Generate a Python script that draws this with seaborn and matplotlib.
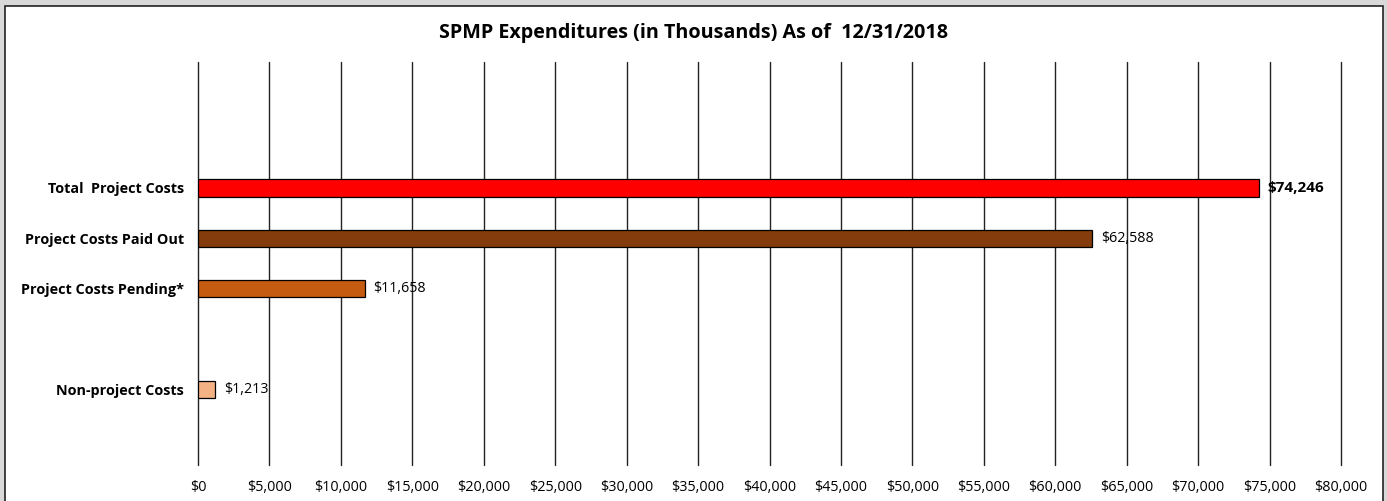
import matplotlib
matplotlib.use("Agg")
import matplotlib.pyplot as plt
from matplotlib.patches import Rectangle
import pandas as pd
import seaborn as sns

# chart data
categories = ["Total  Project Costs", "Project Costs Paid Out", "Project Costs Pending*", "Non-project Costs"]
values = [74246, 62588, 11658, 1213]
bar_colors = ["#FF0000", "#843C0C", "#C55A11", "#F4B183"]
# empty slots keep the gaps seen in the original chart
slot_order = ["_e1", "_e2", categories[0], categories[1], categories[2], "_e3", categories[3], "_e4"]
x_ticks = list(range(0, 80001, 5000))

df = pd.DataFrame({"Category": categories, "Cost": values})

sns.set_theme(style="white")
plt.rcParams["font.family"] = ["Open Sans", "DejaVu Sans"]
plt.rcParams["text.color"] = "black"
plt.rcParams["xtick.color"] = "black"
plt.rcParams["ytick.color"] = "black"

fig = plt.figure(figsize=(13.87, 5.01), dpi=100)
fig.patch.set_facecolor("#D9D9D9")
# white chart panel with dark outline
panel = Rectangle((5 / 1387, -0.05), 1378 / 1387, 1.05 - 6 / 501,
                  transform=fig.transFigure, facecolor="white",
                  edgecolor="#222222", linewidth=1.2, zorder=-10)
fig.add_artist(panel)

ax = fig.add_axes([198 / 1387, 1 - 465 / 501, (1341 - 198) / 1387, (465 - 62) / 501])
ax.set_facecolor("none")
ax.set_zorder(1)

sns.barplot(data=df, x="Cost", y="Category", order=slot_order, hue="Category",
            hue_order=categories, palette=bar_colors, legend=False, saturation=1,
            width=0.34, edgecolor="black", linewidth=0.9, ax=ax, zorder=3)

ax.set_xlim(0, 80000)
ax.set_xticks(x_ticks)
ax.set_xticklabels([f"${v:,}" for v in x_ticks], fontsize=10.4)
ax.set_yticks(range(len(slot_order)))
ax.set_yticklabels(["" if s.startswith("_e") else s for s in slot_order],
                   fontsize=10.4, fontweight="bold")
ax.tick_params(axis="y", length=0, pad=10)
ax.tick_params(axis="x", length=0, pad=11)
ax.set_xlabel("")
ax.set_ylabel("")
for sp in ax.spines.values():
    sp.set_visible(False)
ax.grid(axis="x", color="#222222", linewidth=1.0, zorder=0)
ax.grid(axis="y", visible=False)
for gl in ax.get_xgridlines():
    gl.set_clip_on(False)
ax.set_axisbelow(True)

for cat, val in zip(categories, values):
    ypos = slot_order.index(cat)
    bold = cat == categories[0]
    ax.text(val + 600, ypos, f"${val:,}", va="center", ha="left",
            fontsize=11 if bold else 10.3, fontweight="bold" if bold else "normal", zorder=4)

fig.text(0.5, 1 - 33 / 501, "SPMP Expenditures (in Thousands) As of  12/31/2018",
         ha="center", va="center", fontsize=14.2, fontweight="bold")

fig.savefig("out.png", dpi=100, facecolor=fig.get_facecolor())
